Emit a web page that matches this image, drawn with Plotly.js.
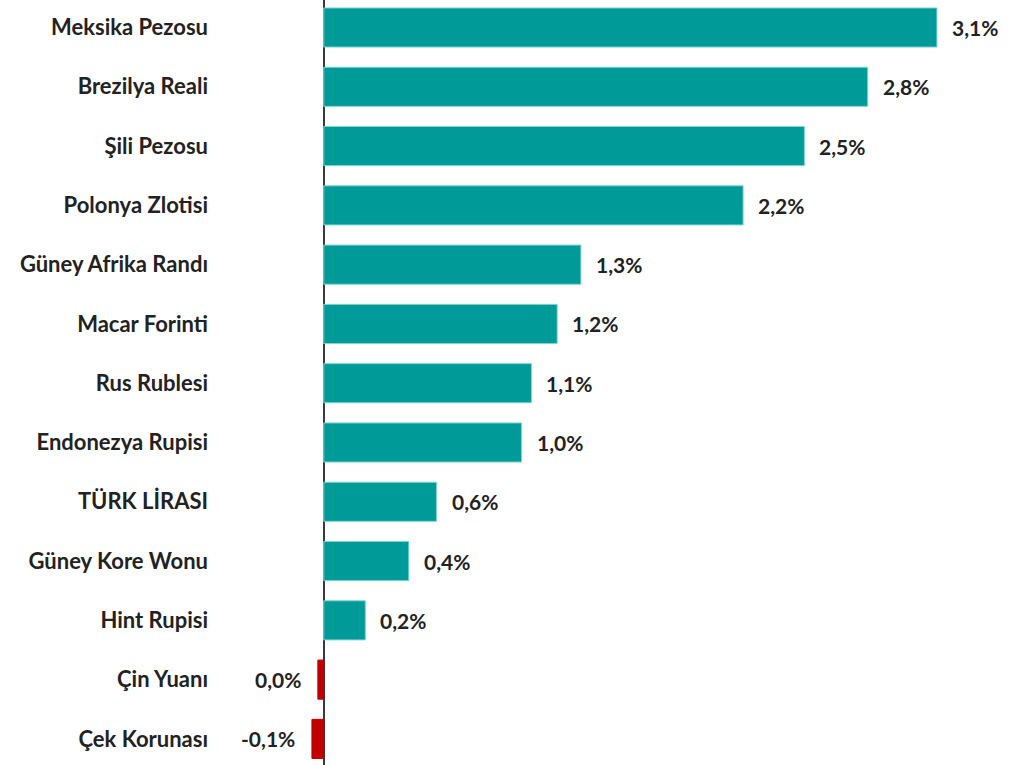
<!DOCTYPE html>
<html><head><meta charset="utf-8">
<script src="https://cdn.plot.ly/plotly-3.0.1.min.js"></script>
<style>html,body{margin:0;padding:0;background:#fff}#chart{width:1020px;height:765px}</style>
</head><body><div id="chart"></div>
<script>
var categories = ["Meksika Pezosu","Brezilya Reali","Şili Pezosu","Polonya Zlotisi","Güney Afrika Randı","Macar Forinti","Rus Rublesi","Endonezya Rupisi","TÜRK LİRASI","Güney Kore Wonu","Hint Rupisi","Çin Yuanı","Çek Korunası"];
var values = [3.10, 2.75, 2.43, 2.12, 1.30, 1.18, 1.05, 1.00, 0.57, 0.43, 0.21, -0.03, -0.06];
var valueLabels = ["3,1%","2,8%","2,5%","2,2%","1,3%","1,2%","1,1%","1,0%","0,6%","0,4%","0,2%","0,0%","-0,1%"];

var FONT = "Lato, 'Open Sans', sans-serif";
var colors = values.map(function(v){ return v >= 0 ? "#009B98" : "#C00000"; });
var lines = values.map(function(v){ return v >= 0 ? "#7ED6D2" : "#C00000"; });

var annotations = values.map(function(v, i){
  return {
    x: v, y: categories[i], xref: "x", yref: "y",
    text: valueLabels[i], showarrow: false,
    xanchor: v >= 0 ? "left" : "right",
    xshift: v >= 0 ? 13 : -15,
    font: {family: FONT, size: 21, color: "#222222", weight: 700}
  };
});

var trace = {
  type: "bar", orientation: "h",
  x: values, y: categories,
  marker: {color: colors, line: {color: lines, width: 1}},
  hoverinfo: "none"
};

var layout = {
  width: 1020, height: 765,
  margin: {l: 215, r: 0, t: 0, b: 0},
  paper_bgcolor: "#fff", plot_bgcolor: "#fff",
  showlegend: false,
  bargap: 0.34,
  xaxis: {range: [-0.55, 3.52], showgrid: false, showticklabels: false, ticks: "",
          zeroline: true, zerolinecolor: "#3a3a3a", zerolinewidth: 2, fixedrange: true},
  yaxis: {type: "category", range: [12.44, -0.464], showgrid: false, ticks: "",
          tickfont: {family: FONT, size: 22, color: "#222222", weight: 700},
          ticklabelstandoff: 6, automargin: false, fixedrange: true},
  annotations: annotations
};

Plotly.newPlot("chart", [trace], layout, {displayModeBar: false, staticPlot: true});
</script></body></html>
